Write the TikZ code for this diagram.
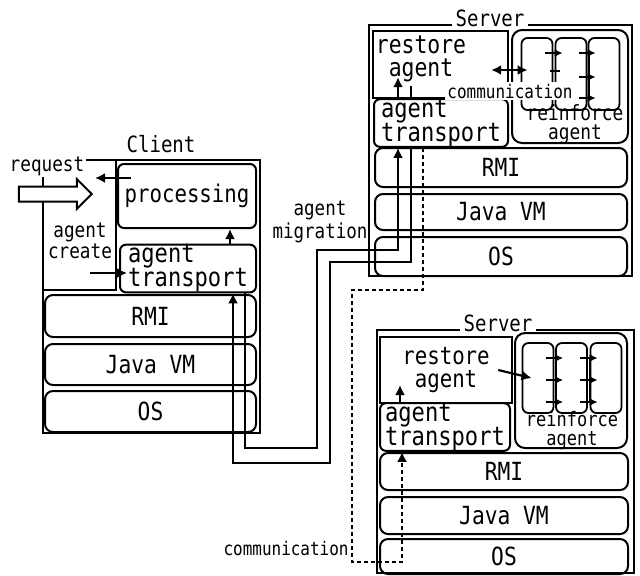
\documentclass[tikz,border=0pt]{standalone}
\usepackage{fontspec}
\setmainfont[FakeStretch=0.85]{DejaVu Sans Mono}
\usetikzlibrary{arrows.meta,positioning,shapes.arrows,calc}

\begin{document}
\begin{tikzpicture}[
  x=0.5pt, y=-0.5pt,
  every node/.style={inner sep=0pt},
  frame/.style={draw, line width=1.4pt},
  part/.style={draw, line width=0.9pt},
  box/.style={draw, line width=1pt, rounded corners=3pt, align=left, font=\fontsize{13}{12}\selectfont},
  layer/.style={draw, line width=1pt, rounded corners=4pt, font=\fontsize{12.5}{14}\selectfont},
  col/.style={draw, line width=0.9pt, rounded corners=3pt, minimum width=15.5pt},
  lbl/.style={align=center, font=\fontsize{10.4}{10.5}\selectfont},
  title/.style={font=\fontsize{11.2}{12}\selectfont},
  note/.style={font=\fontsize{9.4}{10}\selectfont},
  arrow/.style={-{Latex[length=5pt,width=5pt]}, line width=1.1pt},
  tick/.style={-{Latex[length=4pt,width=4pt]}, line width=0.9pt},
  wire/.style={line width=0.9pt},
  comm/.style={line width=0.9pt, dash pattern=on 2pt off 1.5pt}
]
\useasboundingbox (0,0) rectangle (640,575);

% ---- client host ----
\node[frame, minimum width=108.5pt, minimum height=136.5pt] (client) at (151.5,296.5) {};
\node[title, anchor=base] (clbl) at (161,152) {Client};
\node[part, minimum width=36.5pt, minimum height=65pt] (crbox) at (79.5,225) {};
\node[box, minimum width=69pt, minimum height=32pt, font=\fontsize{12.2}{12}\selectfont] (proc) at (187,196) {processing};
\node[box, minimum width=68pt, minimum height=23.5pt] (ctrans) at (188,268.5) {agent\\transport};
\node[layer, minimum width=105.5pt, minimum height=21pt] (crmi) at (150.5,316) {RMI};
\node[layer, minimum width=105.5pt, minimum height=20.5pt, below=2.5pt of crmi] (cjvm) {Java VM};
\node[layer, minimum width=105.5pt, minimum height=20.5pt, below=2pt of cjvm] (cos) {OS};

\node[lbl, fill=white, inner sep=1pt] (reqlbl) at (47,166) {request};
\node[single arrow, draw, fill=white, line width=1pt, minimum height=36.5pt,
      single arrow head extend=3.75pt] (req) at (51.5,194) {\rule{0pt}{6.5pt}};
\node[lbl] (crlbl) at (80,241) {agent\\create};

\coordinate (reqend) at (95,178);
\coordinate (crstart) at (90,273);
\coordinate (up1) at (230,0);
\draw[arrow] ($(proc.west |- reqend)+(14,0)$) -- (reqend);
\draw[arrow] (crstart) -- ($(ctrans.west |- crstart)+(8,0)$);
\draw[arrow] (up1 |- ctrans.north) -- (up1 |- proc.south);

% ---- server 1 ----
\node[frame, minimum width=131.5pt, minimum height=125.5pt] (srv1) at (500.5,150.5) {};
\node[title, fill=white, inner sep=2pt, anchor=base] (s1lbl) at (490,26) {Server};
\node[part, line width=1.2pt, minimum width=67.5pt, minimum height=33.5pt] (rst1) at (440.5,64.5) {};
\node[align=center, font=\fontsize{12.6}{11.8}\selectfont] (rst1txt) at (421,59) {restore\\agent};
\node[box, minimum width=58pt, minimum height=56.5pt, rounded corners=5pt] (rf1) at (570,86.5) {};
\node[col, minimum height=36pt] (c11) at (537,74) {};
\node[col, minimum height=36pt] (c12) at (571,74) {};
\node[col, minimum height=36pt] (c13) at (604,74) {};
\node[lbl, font=\fontsize{10.5}{9.5}\selectfont] (rf1lbl) at (575,124) {reinforce\\agent};
\node[box, minimum width=67pt, minimum height=20pt] (ttrans1) at (441,123) {agent\\transport};
\node[layer, minimum width=126pt, minimum height=19.5pt] (rmi1) at (501,167.5) {RMI};
\node[layer, minimum width=126pt, minimum height=18pt, below=2.5pt of rmi1] (jvm1) {Java VM};
\node[layer, minimum width=126pt, minimum height=19.5pt, below=2.5pt of jvm1] (os1) {OS};

% reinforce pipeline, server 1
\draw[tick] ([xshift=-4pt,yshift=10.5pt]c11.east) -- ([xshift=4pt,yshift=10.5pt]c12.west);
\draw[wire, -{Bar[width=5pt]}] ([xshift=1pt,yshift=10.5pt]c11.east) -- ([xshift=1pt,yshift=1pt]c11.east);
\foreach \dy in {10.5,-1.5,-12}
  \draw[tick] ([xshift=-4pt,yshift=\dy pt]c12.east) -- ([xshift=4pt,yshift=\dy pt]c13.west);
\draw[wire] ([xshift=1pt,yshift=10.5pt]c12.east) -- ([xshift=1pt,yshift=-12pt]c12.east);

\coordinate (cm) at (0,70);
\draw[{Latex[length=5pt,width=5pt]}-{Latex[length=5pt,width=5pt]}, line width=1.1pt]
  ($(rst1.east |- cm)+(-18,0)$) -- ($(c11.west |- cm)+(7,0)$);
\node[note, fill=white, inner sep=1pt] (comm1) at (510,91) {communication};

% ---- server 2 ----
\node[frame, minimum width=128.5pt, minimum height=121.5pt] (srv2) at (505.5,451.5) {};
\node[title, fill=white, inner sep=2pt, anchor=base] (s2lbl) at (498,331) {Server};
\node[part, line width=1.2pt, minimum width=66pt, minimum height=33pt, align=center,
      font=\fontsize{12.2}{11.8}\selectfont] (rst2) at (446,370) {restore\\agent};
\node[box, minimum width=56pt, minimum height=57.5pt, rounded corners=5pt] (rf2) at (571,390.5) {};
\node[col, minimum height=35pt] (c21) at (538,378) {};
\node[col, minimum height=35pt] (c22) at (571.5,378) {};
\node[col, minimum height=35pt] (c23) at (606,378) {};
\node[lbl, font=\fontsize{10}{9.5}\selectfont] (rf2lbl) at (572,431) {reinforce\\agent};
\node[box, minimum width=65pt, minimum height=20pt] (ttrans2) at (445,427) {agent\\transport};
\node[layer, minimum width=124pt, minimum height=18.5pt] (rmi2) at (504,471.5) {RMI};
\node[layer, minimum width=124pt, minimum height=18.5pt, below=2.5pt of rmi2] (jvm2) {Java VM};
\node[layer, minimum width=124pt, minimum height=17.5pt, below=1.5pt of jvm2] (os2) {OS};

% reinforce pipeline, server 2
\foreach \dy in {10,-1,-12} {
  \draw[tick] ([xshift=-4pt,yshift=\dy pt]c21.east) -- ([xshift=4pt,yshift=\dy pt]c22.west);
  \draw[tick] ([xshift=-4pt,yshift=\dy pt]c22.east) -- ([xshift=4pt,yshift=\dy pt]c23.west);
}
\draw[wire] ([xshift=1pt,yshift=10pt]c21.east) -- ([xshift=1pt,yshift=-12pt]c21.east);
\draw[wire] ([xshift=1pt,yshift=10pt]c22.east) -- ([xshift=1pt,yshift=-12pt]c22.east);
\draw[arrow] ([xshift=-7.5pt]rst2.east) -- ([xshift=5pt]c21.west);
\coordinate (up2) at (400,385);
\draw[arrow] (up2 |- ttrans2.north) -- (up2);

% ---- agent migration ----
\node[lbl, font=\fontsize{10.3}{10}\selectfont] (miglbl) at (320,222) {agent\\migration};
\coordinate (ia) at (245,448);
\coordinate (ib) at (317,250);
\coordinate (ic) at (398,250);
\draw[arrow] (ctrans.south -| ia) -- (ia) -| (ib) -- (ic) -- (ic |- ttrans1.south);
\draw[arrow] (ic |- ttrans1.north) -- ++(0,-21);
\coordinate (oa) at (411,262);
\coordinate (ob) at (330,463);
\coordinate (oc) at (233,463);
\draw[arrow] (oa |- ttrans1.south) -- (oa) -| (ob) -- (oc) -- (oc |- ctrans.south);
\draw[wire] ($(oa |- rst1.south)+(0,-13)$) -- (oa |- ttrans1.north);

% ---- communication between servers ----
\coordinate (da) at (423,290);
\coordinate (db) at (352,562);
\coordinate (dc) at (402,562);
\draw[comm, -{Latex[length=5pt,width=5pt]}] (ttrans1.south -| da) -- (da) -| (db) -- (dc) -- (dc |- ttrans2.south);
\node[note, anchor=east] (comm2) at (349,548) {communication};
\end{tikzpicture}
\end{document}
